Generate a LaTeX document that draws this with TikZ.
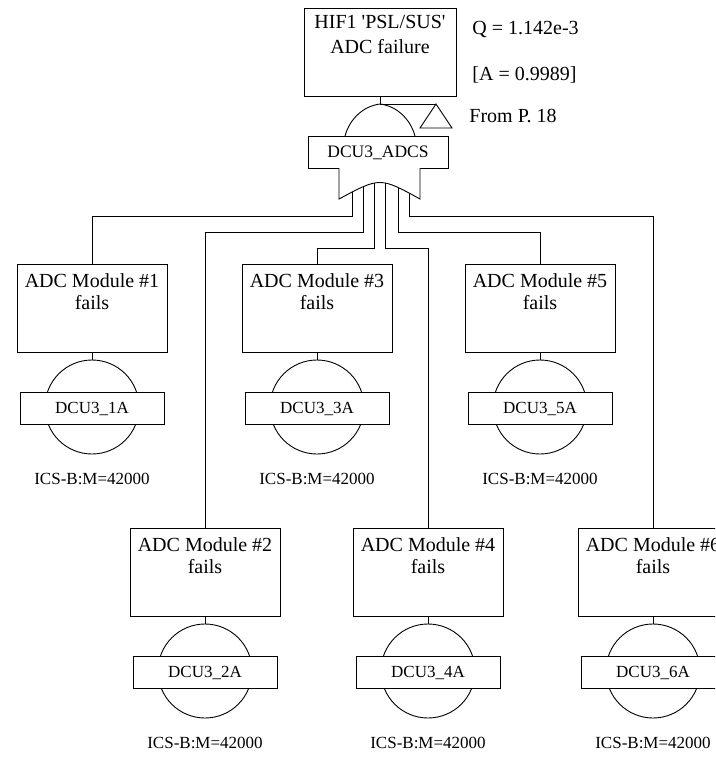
\documentclass[tikz,border=0pt]{standalone}
\usepackage{fontspec}
\setmainfont{Liberation Serif}
\begin{document}
\begin{tikzpicture}[x=1pt,y=-1pt,line width=0.9pt,
  evbox/.style={draw, rectangle, minimum width=150pt, minimum height=88pt, inner sep=0pt},
  lblbox/.style={draw, fill=white, rectangle, minimum width=144pt, minimum height=32pt, inner sep=0pt,
    font=\fontsize{17}{20}\selectfont, text height=11.3pt, text depth=0pt},
  evtxt/.style={font=\fontsize{20}{22}\selectfont, align=center, inner sep=0pt, anchor=north},
  codetxt/.style={font=\fontsize{17}{20}\selectfont, inner sep=0pt, anchor=base},
  sidetxt/.style={font=\fontsize{20}{24}\selectfont, inner sep=0pt, anchor=base west},
  bcirc/.style={draw, circle, minimum size=94pt, inner sep=0pt}]
\useasboundingbox (0,0) rectangle (715,757);
\clip (0,0) rectangle (715,757);

% top event
\node[evbox, minimum width=152pt] (top) at (380,52) {};
\node[evtxt, font=\fontsize{20}{24.5}\selectfont] (toptxt) at (380,15.3) {HIF1 \textquotesingle PSL/SUS\textquotesingle\\ADC failure};
\node[sidetxt] (q) at (472,35) {Q = 1.142e-3};
\node[sidetxt] (a) at (472,81) {[A = 0.9989]};
\node[sidetxt] (from) at (469,123) {From P. 18};

% top gate (dome) and transfer triangle
\coordinate (g0top) at (380,104);
\draw (345,136) .. controls (350,118) and (364,106) .. (g0top) .. controls (396,106) and (410,118) .. (415,136);
\draw (top.south) -- (g0top);
\coordinate (tr) at (436,104);
\draw (g0top) -- (tr);
\draw (tr) -- (420,128) -- (452,128) -- cycle;
\node[lblbox, minimum width=140pt, text height=11.6pt, font=\fontsize{17.5}{20}\selectfont] (g0) at (378,152) {DCU3\_ADCS};

% module boxes
\node[evbox] (m1) at (92,308) {};
\node[evbox] (m3) at (317,308) {};
\node[evbox] (m5) at (540,308) {};
\node[evbox] (m2) at (205,572) {};
\node[evbox] (m4) at (428,572) {};
\node[evbox] (m6) at (653,572) {};

\node[evtxt] (t1) at (92,273.3) {ADC Module \#1\\fails};
\node[evtxt] (t3) at (317,273.3) {ADC Module \#3\\fails};
\node[evtxt] (t5) at (540,273.3) {ADC Module \#5\\fails};
\node[evtxt] (t2) at (205,537.3) {ADC Module \#2\\fails};
\node[evtxt] (t4) at (428,537.3) {ADC Module \#4\\fails};
\node[evtxt] (t6) at (653,537.3) {ADC Module \#6\\fails};

% gate inputs
\coordinate (gin1) at (352,180);
\coordinate (gin2) at (363,180);
\coordinate (gin3) at (374,180);
\coordinate (gin4) at (385,180);
\coordinate (gin5) at (398,180);
\coordinate (gin6) at (409,180);
\draw (gin1) -- ++(0,36) -| (m1.north);
\draw (gin2) -- ++(0,52) -| (m2.north);
\draw (gin3) -- ++(0,68) -| (m3.north);
\draw (gin4) -- ++(0,68) -| (m4.north);
\draw (gin5) -- ++(0,52) -| (m5.north);
\draw (gin6) -- ++(0,36) -| (m6.north);

% OR gate
\draw[fill=white] (339,168) -- (339,199) .. controls (380,177) .. (420,199) -- (420,168);

% basic events
\foreach \m/\x/\y/\lab in {1/92/407/1A, 3/317/407/3A, 5/540/407/5A, 2/205/671/2A, 4/428/671/4A, 6/653/671/6A}{
  \node[bcirc] (c\m) at (\x,\y) {};
  \draw (m\m.south) -- (c\m.north);
  \node[lblbox] (l\m) at (\x,\y+1) {DCU3\_\lab};
  \node[codetxt] (ics\m) at (\x,\y+77) {ICS-B:M=42000};
}
\end{tikzpicture}
\end{document}
